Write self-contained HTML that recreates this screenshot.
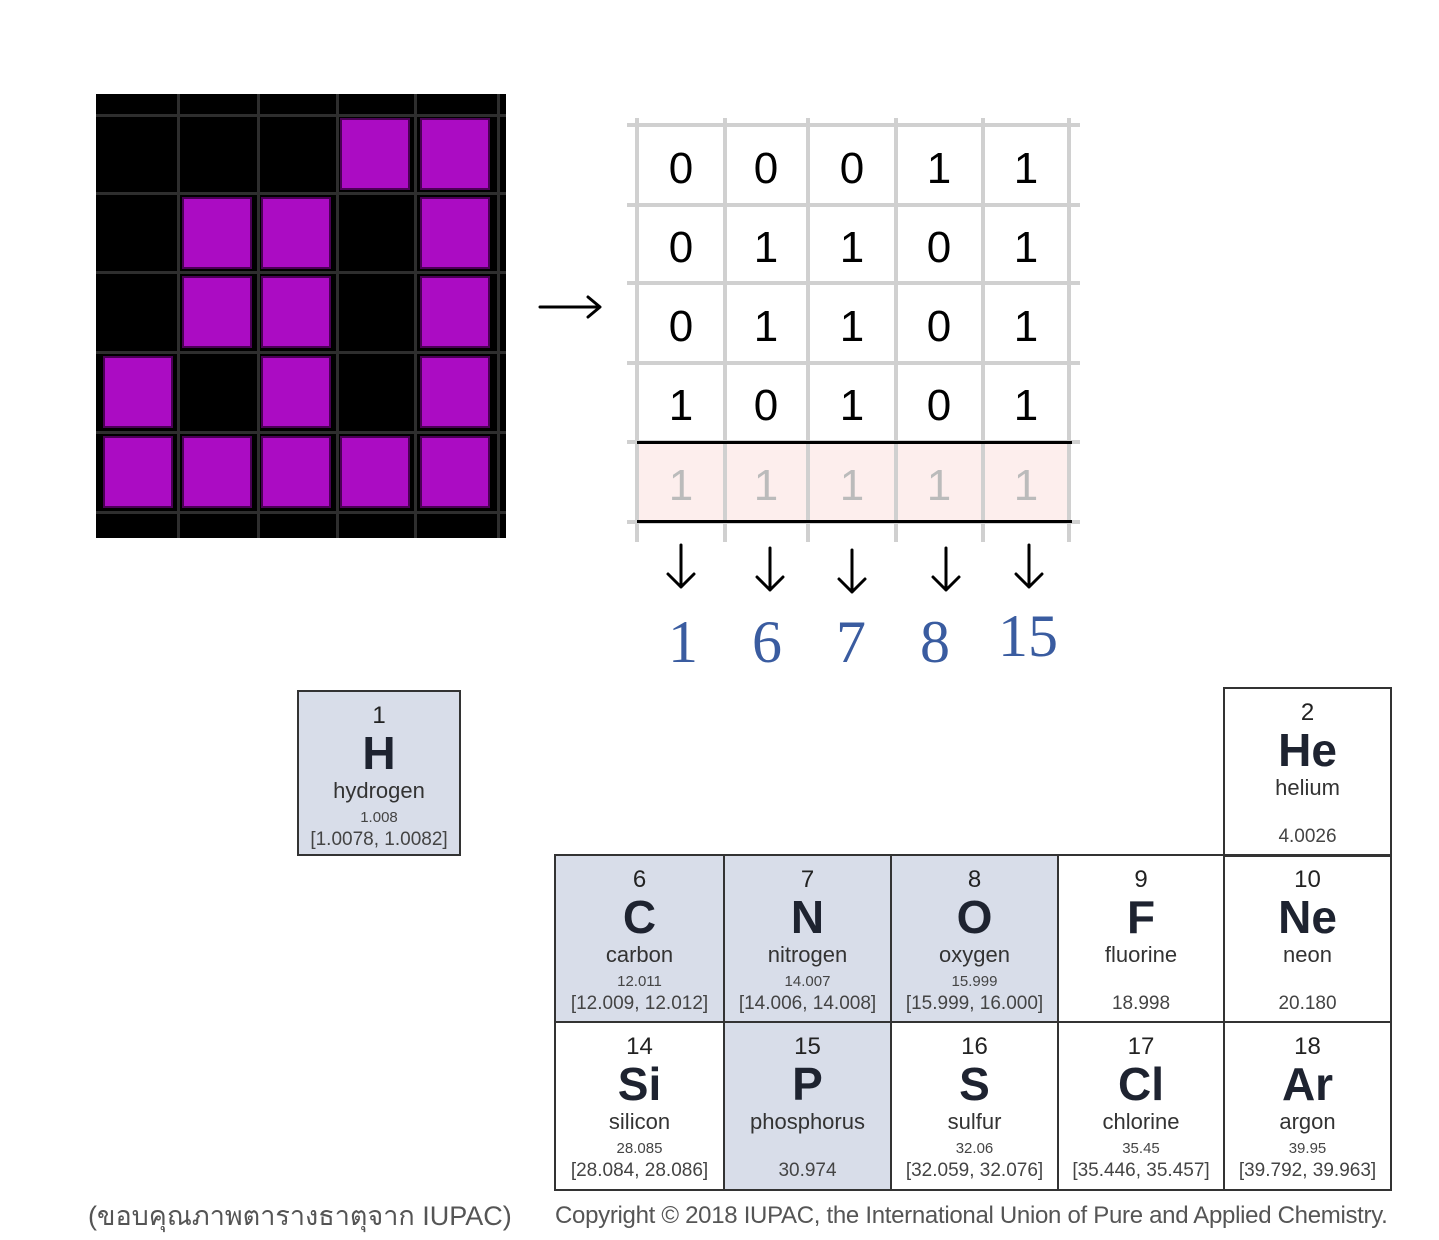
<!DOCTYPE html>
<html><head><meta charset="utf-8"><style>
body{margin:0;width:1439px;height:1240px;background:#fff;position:relative;overflow:hidden;font-family:"Liberation Sans",sans-serif}
.a{position:absolute}
.pc{position:absolute;width:66px;height:68px;background:#ab0cc3;box-shadow:0 0 0 2px #4a0055}
.gl{position:absolute;background:#d0d0d0}
.n{position:absolute;width:86px;text-align:center;font-size:44px;line-height:50px;color:#000}
.g{color:#bbb}
.bn{position:absolute;font-family:"Liberation Serif",serif;font-size:60px;color:#3a5ca0;width:90px;text-align:center;line-height:60px}
.c{position:absolute;border:2px solid #333;box-sizing:border-box;text-align:center;color:#222}
.c.b{background:#d8dde9}
.c div{position:absolute;left:0;right:0}
.z{top:10px;font-size:24px}
.s{top:34px;font-size:46px;font-weight:bold;color:#1e2330}
.m{top:86px;font-size:22px;color:#333}
.w{top:117px;font-size:15px;color:#444}
.r{top:137px;font-size:19px;color:#444}
</style></head><body>
<!-- pixel grid -->
<div class="a" style="left:96px;top:94px;width:410px;height:444px;background:#000"></div>
<div class="a" style="left:96px;top:114px;width:410px;height:3px;background:#2e2e2e"></div>
<div class="a" style="left:96px;top:192px;width:410px;height:3px;background:#2e2e2e"></div>
<div class="a" style="left:96px;top:271px;width:410px;height:3px;background:#2e2e2e"></div>
<div class="a" style="left:96px;top:351px;width:410px;height:3px;background:#2e2e2e"></div>
<div class="a" style="left:96px;top:431px;width:410px;height:3px;background:#2e2e2e"></div>
<div class="a" style="left:96px;top:511px;width:410px;height:3px;background:#2e2e2e"></div>
<div class="a" style="left:177px;top:94px;width:3px;height:444px;background:#2e2e2e"></div>
<div class="a" style="left:257px;top:94px;width:3px;height:444px;background:#2e2e2e"></div>
<div class="a" style="left:336px;top:94px;width:3px;height:444px;background:#2e2e2e"></div>
<div class="a" style="left:414px;top:94px;width:3px;height:444px;background:#2e2e2e"></div>
<div class="a" style="left:497px;top:94px;width:3px;height:444px;background:#2e2e2e"></div>
<div class="pc" style="left:342px;top:120px"></div><div class="pc" style="left:422px;top:120px"></div>
<div class="pc" style="left:184px;top:199px"></div><div class="pc" style="left:263px;top:199px"></div><div class="pc" style="left:422px;top:199px"></div>
<div class="pc" style="left:184px;top:278px"></div><div class="pc" style="left:263px;top:278px"></div><div class="pc" style="left:422px;top:278px"></div>
<div class="pc" style="left:105px;top:358px"></div><div class="pc" style="left:263px;top:358px"></div><div class="pc" style="left:422px;top:358px"></div>
<div class="pc" style="left:105px;top:438px"></div><div class="pc" style="left:184px;top:438px"></div><div class="pc" style="left:263px;top:438px"></div><div class="pc" style="left:342px;top:438px"></div><div class="pc" style="left:422px;top:438px"></div>
<svg class="a" style="left:0;top:0" width="1439" height="700" fill="none" stroke="#000" stroke-width="3" stroke-linecap="round" stroke-linejoin="round">
<path d="M540 307H599M588 297L600 307L588 317"/>
<g id="d"><path d="M681 545V587M668 574L681 587L694 574"/></g>
<path d="M770 548V590M757 577L770 590L783 577"/>
<path d="M852 550V592M839 579L852 592L865 579"/>
<path d="M946 548V590M933 577L946 590L959 577"/>
<path d="M1029 545V587M1016 574L1029 587L1042 574"/>
</svg>
<!-- number grid -->
<div class="a" style="left:637px;top:442px;width:434px;height:80px;background:#fdeeed"></div>
<div class="gl" style="left:627px;top:123px;width:453px;height:4px"></div>
<div class="gl" style="left:627px;top:203px;width:453px;height:4px"></div>
<div class="gl" style="left:627px;top:281px;width:453px;height:4px"></div>
<div class="gl" style="left:627px;top:361px;width:453px;height:4px"></div>
<div class="gl" style="left:627px;top:440px;width:453px;height:4px"></div>
<div class="gl" style="left:627px;top:520px;width:453px;height:4px"></div>
<div class="gl" style="left:635px;top:118px;width:4px;height:424px"></div>
<div class="gl" style="left:723px;top:118px;width:4px;height:424px"></div>
<div class="gl" style="left:806px;top:118px;width:4px;height:424px"></div>
<div class="gl" style="left:894px;top:118px;width:4px;height:424px"></div>
<div class="gl" style="left:981px;top:118px;width:4px;height:424px"></div>
<div class="gl" style="left:1067px;top:118px;width:4px;height:424px"></div>
<div class="a" style="left:637px;top:441px;width:435px;height:3px;background:#000"></div>
<div class="a" style="left:637px;top:520px;width:435px;height:3px;background:#000"></div>
<div class="n" style="left:638px;top:144px">0</div><div class="n" style="left:723px;top:144px">0</div><div class="n" style="left:809px;top:144px">0</div><div class="n" style="left:896px;top:144px">1</div><div class="n" style="left:983px;top:144px">1</div>
<div class="n" style="left:638px;top:223px">0</div><div class="n" style="left:723px;top:223px">1</div><div class="n" style="left:809px;top:223px">1</div><div class="n" style="left:896px;top:223px">0</div><div class="n" style="left:983px;top:223px">1</div>
<div class="n" style="left:638px;top:302px">0</div><div class="n" style="left:723px;top:302px">1</div><div class="n" style="left:809px;top:302px">1</div><div class="n" style="left:896px;top:302px">0</div><div class="n" style="left:983px;top:302px">1</div>
<div class="n" style="left:638px;top:381px">1</div><div class="n" style="left:723px;top:381px">0</div><div class="n" style="left:809px;top:381px">1</div><div class="n" style="left:896px;top:381px">0</div><div class="n" style="left:983px;top:381px">1</div>
<div class="n g" style="left:638px;top:461px">1</div><div class="n g" style="left:723px;top:461px">1</div><div class="n g" style="left:809px;top:461px">1</div><div class="n g" style="left:896px;top:461px">1</div><div class="n g" style="left:983px;top:461px">1</div>
<div class="bn" style="left:638px;top:612px">1</div><div class="bn" style="left:722px;top:612px">6</div><div class="bn" style="left:806px;top:612px">7</div><div class="bn" style="left:890px;top:612px">8</div><div class="bn" style="left:983px;top:606px">15</div>
<!-- periodic cells -->
<div class="c b" style="left:297px;top:690px;width:164px;height:166px"><div class="z">1</div><div class="s">H</div><div class="m">hydrogen</div><div class="w">1.008</div><div class="r">[1.0078, 1.0082]</div></div>
<div class="c" style="left:1223px;top:687px;width:169px;height:170px"><div class="z">2</div><div class="s">He</div><div class="m">helium</div><div class="r">4.0026</div></div>
<div class="c b" style="left:554px;top:854px;width:171px;height:169px"><div class="z">6</div><div class="s">C</div><div class="m">carbon</div><div class="w">12.011</div><div class="r">[12.009, 12.012]</div></div>
<div class="c b" style="left:723px;top:854px;width:169px;height:169px"><div class="z">7</div><div class="s">N</div><div class="m">nitrogen</div><div class="w">14.007</div><div class="r">[14.006, 14.008]</div></div>
<div class="c b" style="left:890px;top:854px;width:169px;height:169px"><div class="z">8</div><div class="s">O</div><div class="m">oxygen</div><div class="w">15.999</div><div class="r">[15.999, 16.000]</div></div>
<div class="c" style="left:1057px;top:854px;width:168px;height:169px"><div class="z">9</div><div class="s">F</div><div class="m">fluorine</div><div class="r">18.998</div></div>
<div class="c" style="left:1223px;top:854px;width:169px;height:169px"><div class="z">10</div><div class="s">Ne</div><div class="m">neon</div><div class="r">20.180</div></div>
<div class="c" style="left:554px;top:1021px;width:171px;height:170px"><div class="z">14</div><div class="s">Si</div><div class="m">silicon</div><div class="w">28.085</div><div class="r">[28.084, 28.086]</div></div>
<div class="c b" style="left:723px;top:1021px;width:169px;height:170px"><div class="z">15</div><div class="s">P</div><div class="m">phosphorus</div><div class="r">30.974</div></div>
<div class="c" style="left:890px;top:1021px;width:169px;height:170px"><div class="z">16</div><div class="s">S</div><div class="m">sulfur</div><div class="w">32.06</div><div class="r">[32.059, 32.076]</div></div>
<div class="c" style="left:1057px;top:1021px;width:168px;height:170px"><div class="z">17</div><div class="s">Cl</div><div class="m">chlorine</div><div class="w">35.45</div><div class="r">[35.446, 35.457]</div></div>
<div class="c" style="left:1223px;top:1021px;width:169px;height:170px"><div class="z">18</div><div class="s">Ar</div><div class="m">argon</div><div class="w">39.95</div><div class="r">[39.792, 39.963]</div></div>
<div class="a" style="left:88px;top:1194px;font-size:27px;color:#555;white-space:nowrap">(ขอบคุณภาพตารางธาตุจาก IUPAC)</div>
<div class="a" style="left:555px;top:1202px;font-size:24px;color:#555;white-space:nowrap;letter-spacing:-0.3px">Copyright © 2018 IUPAC, the International Union of Pure and Applied Chemistry.</div>
</body></html>
